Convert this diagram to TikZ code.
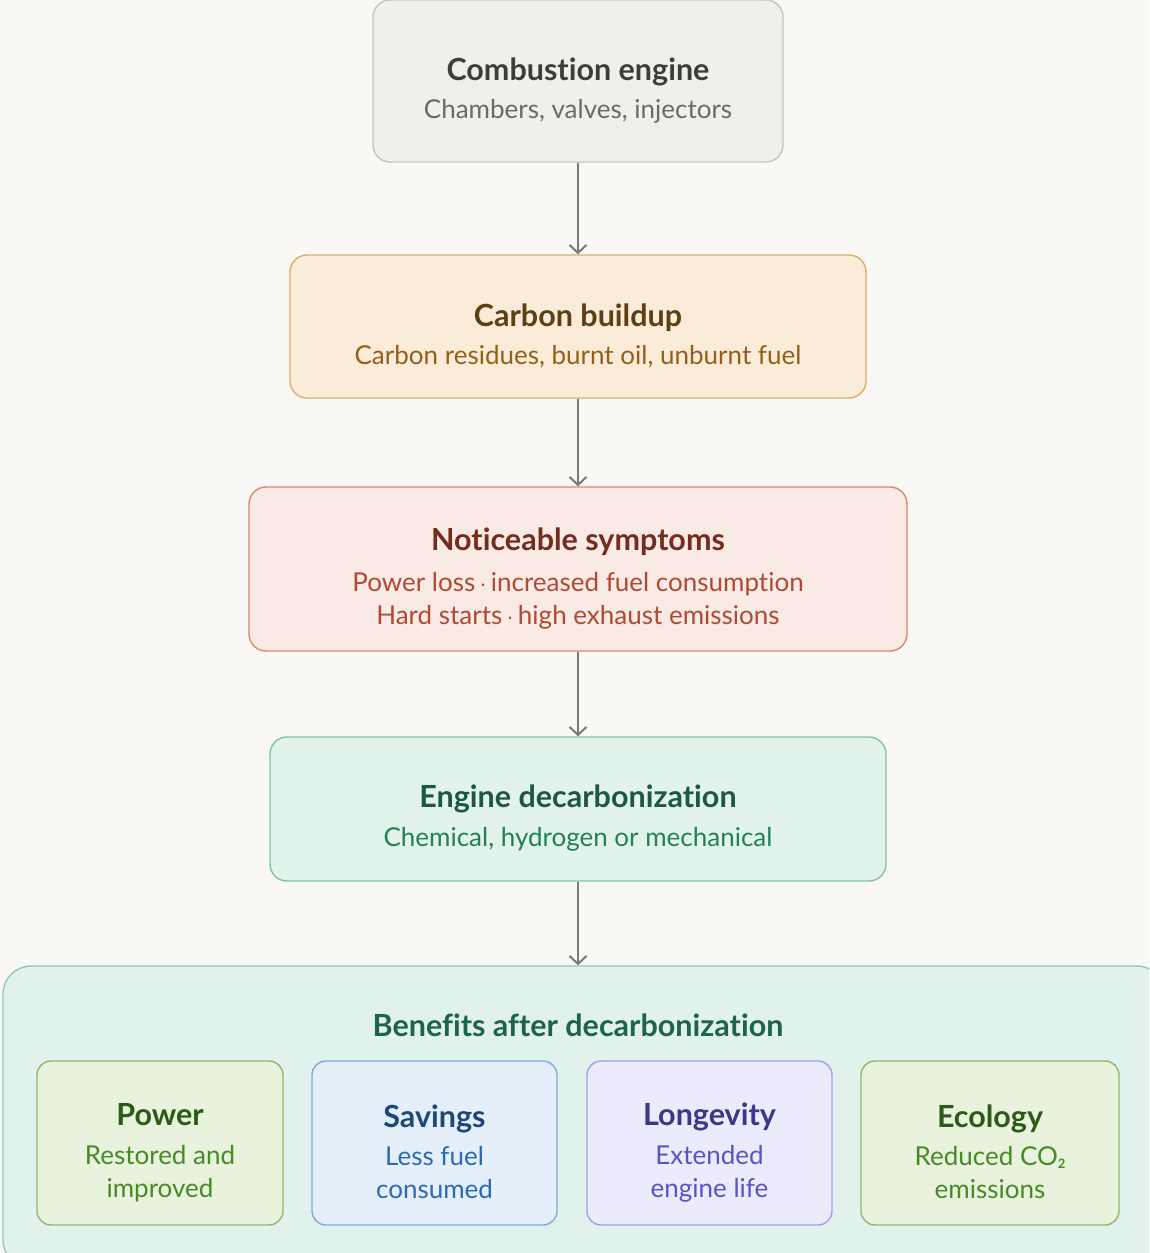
\documentclass[tikz,border=0pt]{standalone}
\usepackage{fontspec}
\setmainfont{Lato}[Ligatures=NoCommon]
\usetikzlibrary{arrows.meta, positioning}

\definecolor{paper}{HTML}{F9F8F5}
\definecolor{arrowgray}{HTML}{7A7A78}
% box colours
\definecolor{engfill}{HTML}{F1EFEA}
\definecolor{engdraw}{HTML}{C6C4BE}
\definecolor{engtitle}{HTML}{3D3D3B}
\definecolor{engsub}{HTML}{6A6A67}
\definecolor{carbfill}{HTML}{FBEBD9}
\definecolor{carbdraw}{HTML}{DDAE68}
\definecolor{carbtitle}{HTML}{5E3F14}
\definecolor{carbsub}{HTML}{946018}
\definecolor{sympfill}{HTML}{F9EAE5}
\definecolor{sympdraw}{HTML}{DB8672}
\definecolor{symptitle}{HTML}{742C1C}
\definecolor{sympsub}{HTML}{B04A32}
\definecolor{decfill}{HTML}{E2F3EC}
\definecolor{decdraw}{HTML}{7EC4A8}
\definecolor{dectitle}{HTML}{1C5842}
\definecolor{decsub}{HTML}{22805C}
\definecolor{benfill}{HTML}{E0F2EB}
\definecolor{bendraw}{HTML}{8CCBB2}
\definecolor{bentitle}{HTML}{1D6548}
\definecolor{grnfill}{HTML}{E8F2DC}
\definecolor{grndraw}{HTML}{8DB86C}
\definecolor{grntitle}{HTML}{2C5A18}
\definecolor{grnsub}{HTML}{478A28}
\definecolor{blufill}{HTML}{E4EFFA}
\definecolor{bludraw}{HTML}{82AADB}
\definecolor{blutitle}{HTML}{1E4878}
\definecolor{blusub}{HTML}{2E69B4}
\definecolor{purfill}{HTML}{ECEBFB}
\definecolor{purdraw}{HTML}{A59DE6}
\definecolor{purtitle}{HTML}{3C3786}
\definecolor{pursub}{HTML}{5D51C6}

% the strut pushes the text block down a little inside its box
\newcommand{\boxhead}[2]{\rule{0pt}{41pt}%
  {\color{#1}\fontsize{30.5}{33}\selectfont\bfseries #2}}
\newcommand{\boxline}[2]{{\color{#1}#2}}

\tikzset{
  stage/.style={draw, rounded corners=17pt, line width=1.4pt, align=center,
    inner sep=0pt, font=\fontsize{26}{33}\selectfont},
  benefit/.style={stage, rounded corners=14pt, minimum height=164pt},
  flow/.style={draw=arrowgray, line width=2pt,
    -{Straight Barb[length=8pt, width=17pt, line width=2pt]}},
}

\begin{document}
\begin{tikzpicture}[x=1pt, y=-1pt]
    \useasboundingbox (0,0) rectangle (1149,1253);%
    \clip (0,0) rectangle (1149,1253);%
    \fill [paper] (0,0) rectangle (1149,1253);%

    % Combustion engine
    \node [stage, fill=engfill, draw=engdraw, minimum width=410pt,
    minimum height=162pt] (engine) at (578,81)
    {\boxhead{engtitle}{Combustion engine}\\[5pt]%
      \boxline{engsub}{Chambers, valves, injectors}};%

    % Carbon buildup
    \node [stage, fill=carbfill, draw=carbdraw, minimum width=576pt,
    minimum height=143pt] (carbon) at (578,326.5)
    {\boxhead{carbtitle}{Carbon buildup}\\[5pt]%
      \boxline{carbsub}{Carbon residues, burnt oil, unburnt fuel}};%

    % Symptoms
    \node [stage, fill=sympfill, draw=sympdraw, minimum width=658pt,
    minimum height=164pt] (symptoms) at (578,569)
    {\boxhead{symptitle}{Noticeable symptoms}\\[8pt]%
      \boxline{sympsub}{Power loss\,$\cdot$\,increased fuel consumption}\\%
      \boxline{sympsub}{Hard starts\,$\cdot$\,high exhaust emissions}};%

    % Decarbonization
    \node [stage, fill=decfill, draw=decdraw, minimum width=616pt,
    minimum height=144pt] (decarb) at (578,809)
    {\boxhead{dectitle}{Engine decarbonization}\\[6pt]%
      \boxline{decsub}{Chemical, hydrogen or mechanical}};%

    % Benefits
    \node [stage, rounded corners=28pt, fill=benfill, draw=bendraw,
    minimum width=1162pt, minimum height=302pt] (benefits) at (584,1117) {};%
    \node [font=\fontsize{30.5}{33}\selectfont\bfseries, text=bentitle]
    (bentitle) at (578,1025) {Benefits after decarbonization};%
    % -- Power
    \node [benefit, fill=grnfill, draw=grndraw, minimum width=246pt]
    (power) at (160,1143)
    {\boxhead{grntitle}{Power}\\[6pt]%
      \boxline{grnsub}{Restored and}\\\boxline{grnsub}{improved}};%
    % -- Savings
    \node [benefit, fill=blufill, draw=bludraw, minimum width=245pt]
    (savings) at (434.5,1143)
    {\boxhead{blutitle}{Savings}\\[5pt]%
      \boxline{blusub}{Less fuel}\\\boxline{blusub}{consumed}};%
    % -- Longevity
    \node [benefit, fill=purfill, draw=purdraw, minimum width=245pt]
    (longevity) at (709.5,1143)
    {\boxhead{purtitle}{Longevity}\\[6pt]%
      \boxline{pursub}{Extended}\\\boxline{pursub}{engine life}};%
    % -- Ecology
    \node [benefit, fill=grnfill, draw=grndraw, minimum width=258pt]
    (ecology) at (990,1143)
    {\boxhead{grntitle}{Ecology}\\[5pt]%
      \boxline{grnsub}{Reduced CO\raisebox{-3pt}{\fontsize{13}{13}\selectfont\bfseries 2}}\\%
      \boxline{grnsub}{emissions}};%

    % arrows
    \draw [flow] (engine.south) -- (carbon.north);%
    \draw [flow] (carbon.south) -- (symptoms.north);%
    \draw [flow] (symptoms.south) -- (decarb.north);%
    \draw [flow] (decarb.south) -- (decarb.south |- benefits.north);%
  \end{tikzpicture}
\end{document}
